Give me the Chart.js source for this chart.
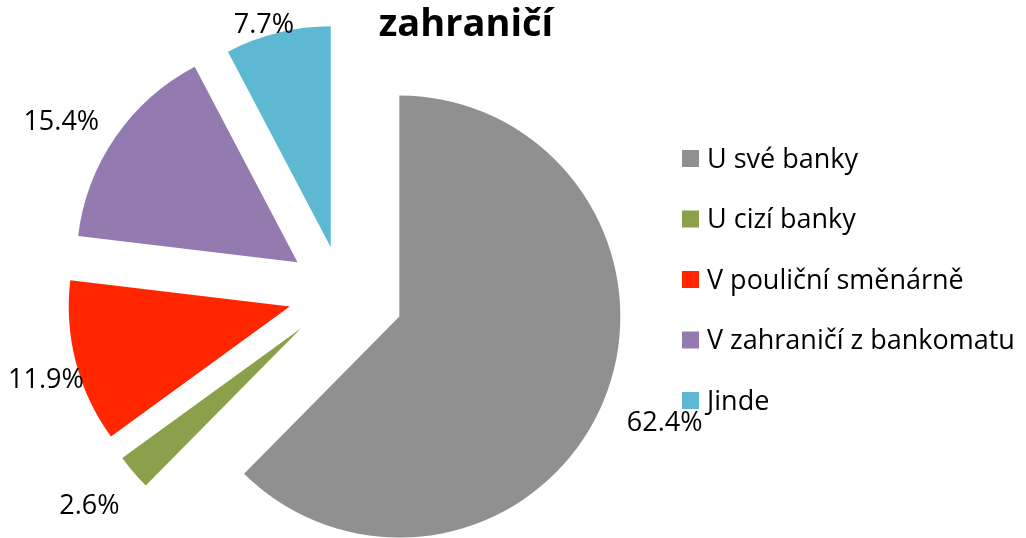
<!DOCTYPE html>
<html>
<head>
<meta charset="utf-8">
<script src="https://cdn.jsdelivr.net/npm/chart.js@4/dist/chart.umd.min.js"></script>
<style>
  body { margin: 0; background: #fff; }
  canvas { display: block; }
</style>
</head>
<body>
<canvas id="graf" width="1026" height="538"></canvas>
<script>
const kategorie = ['U své banky', 'U cizí banky', 'V pouliční směnárně', 'V zahraničí z bankomatu', 'Jinde'];
const podily = [62.4, 2.6, 11.9, 15.4, 7.7];
const popisky = ['62.4%', '2.6%', '11.9%', '15.4%', '7.7%'];
const nadpis = 'zahraničí';

const barvy = ['#909090', '#8ba04b', '#ff2600', '#937bb0', '#5cb9d1'];
const vysunuti = [62, 54, 54, 54, 47];
const pismo = '"Open Sans", Lato, sans-serif';

// vysune kazdy dilek od stredu
const vysunutiPlugin = {
    id: 'vysunuti',
    beforeDatasetsDraw(chart) {
        const meta = chart.getDatasetMeta(0);
        meta.data.forEach((arc, i) => {
            if (arc.obaleno) return;
            const puvodni = arc.draw;
            arc.draw = function (ctx) {
                const stred = (this.startAngle + this.endAngle) / 2;
                ctx.save();
                ctx.translate(Math.cos(stred) * vysunuti[i], Math.sin(stred) * vysunuti[i]);
                puvodni.call(this, ctx);
                ctx.restore();
            };
            arc.obaleno = true;
        });
    }
};

// popisky, legenda a nadpis
const textPlugin = {
    id: 'texty',
    afterDraw(chart) {
        const ctx = chart.ctx;
        const meta = chart.getDatasetMeta(0);
        ctx.save();
        ctx.fillStyle = '#000';

        ctx.font = '27px ' + pismo;
        ctx.textAlign = 'center';
        ctx.textBaseline = 'middle';
        meta.data.forEach((arc, i) => {
            const uhel = (arc.startAngle + arc.endAngle) / 2;
            const c = Math.cos(uhel), s = Math.sin(uhel);
            const x0 = arc.x + c * vysunuti[i];
            const y0 = arc.y + s * vysunuti[i];
            const w = ctx.measureText(popisky[i]).width;
            const h = 24;
            let x = x0 + c * (arc.outerRadius + 28) + c * w / 2;
            let y = y0 + s * (arc.outerRadius + 28) + s * h / 2 + 8;
            x = Math.max(x, w / 2 + 8);
            y = Math.max(y, 25);
            ctx.fillText(popisky[i], x, y);
        });

        ctx.textAlign = 'left';
        kategorie.forEach((k, i) => {
            const y = 159 + i * 60.5;
            ctx.fillStyle = barvy[i];
            ctx.fillRect(682, y - 9, 17, 17);
            ctx.fillStyle = '#000';
            ctx.fillText(k, 707, y + 1);
        });

        ctx.font = 'bold 38px ' + pismo;
        ctx.textAlign = 'center';
        ctx.textBaseline = 'alphabetic';
        ctx.fillText(nadpis, 466, 36);
        ctx.restore();
    }
};

new Chart(document.getElementById('graf'), {
    type: 'pie',
    data: {
        labels: kategorie,
        datasets: [{
            data: podily,
            backgroundColor: barvy,
            borderWidth: 0
        }]
    },
    options: {
        responsive: false,
        animation: false,
        radius: 221,
        layout: { padding: { left: 0, right: 342, top: 48, bottom: 0 } },
        plugins: {
            legend: { display: false },
            tooltip: { enabled: false }
        }
    },
    plugins: [vysunutiPlugin, textPlugin]
});
</script>
</body>
</html>
